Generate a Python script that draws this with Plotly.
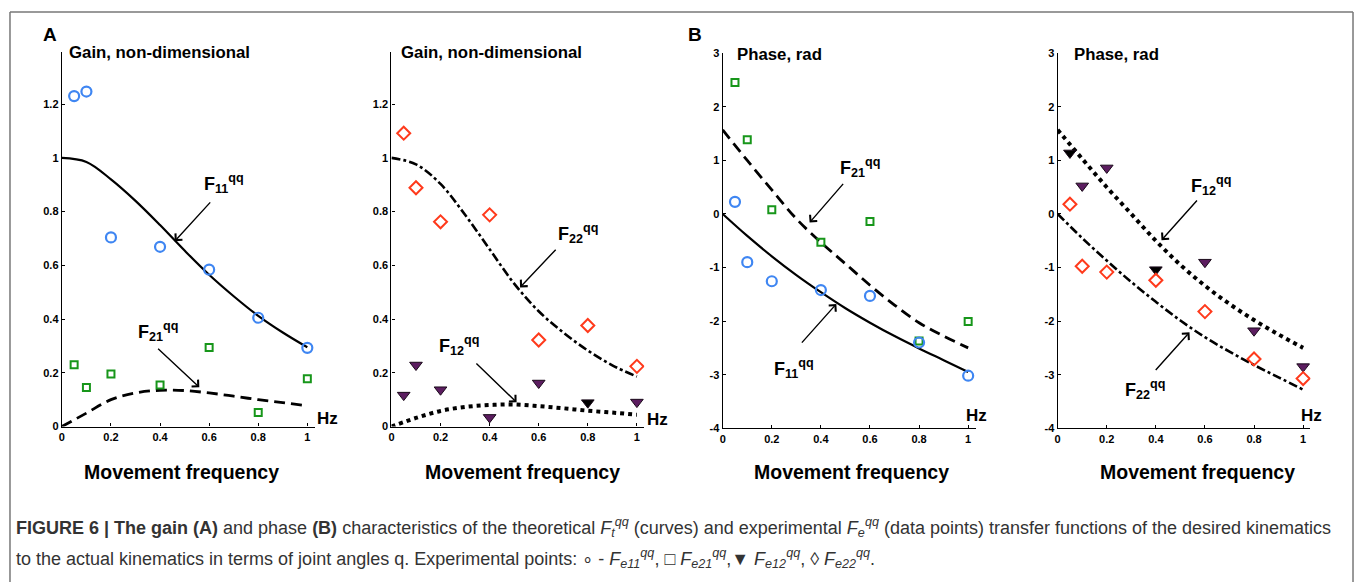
import plotly.graph_objects as go

W, H = 1357, 588

# ---------------- data ----------------
freq_pts = [0.05, 0.1, 0.2, 0.4, 0.6, 0.8, 1.0]
gain_e11 = [1.23, 1.247, 0.704, 0.669, 0.584, 0.405, 0.293]
gain_e21 = [0.23, 0.145, 0.196, 0.155, 0.294, 0.052, 0.178]
gain_e22 = [1.092, 0.889, 0.762, 0.788, 0.322, 0.376, 0.224]
gain_e12 = [0.117, 0.229, 0.137, 0.034, 0.162, 0.089, 0.091]
phase_e11 = [0.226, -0.90, -1.256, -1.42, -1.53, -2.40, -3.02]
phase_e21 = [2.457, 1.384, 0.079, -0.53, -0.14, -2.37, -2.01]
phase_e12 = [1.14, 0.524, 0.86, -1.04, -0.90, -2.18, -2.85]
phase_e22 = [0.183, -0.976, -1.085, -1.238, -1.823, -2.707, -3.073]
# which e12 points are drawn black (gain panel / phase panel)
gain_e12_black = [False, False, False, False, False, True, False]
phase_e12_black = [True, False, False, True, False, False, False]

curve_x = [0.0, 0.1, 0.2, 0.3, 0.4, 0.5, 0.6, 0.7, 0.8, 0.9, 1.0]
gain_t11 = [1.0, 0.985, 0.92, 0.84, 0.75, 0.655, 0.565, 0.485, 0.412, 0.35, 0.295]
gain_t21 = [0.0, 0.05, 0.10, 0.125, 0.135, 0.134, 0.125, 0.113, 0.10, 0.089, 0.077]
gain_t22 = [1.0, 0.976, 0.903, 0.788, 0.66, 0.532, 0.429, 0.35, 0.283, 0.228, 0.186]
gain_t12 = [0.0, 0.032, 0.058, 0.073, 0.08, 0.082, 0.076, 0.068, 0.059, 0.052, 0.044]
phase_t11 = [0.0, -0.41, -0.79, -1.14, -1.46, -1.76, -2.03, -2.28, -2.51, -2.73, -2.95]
phase_t21 = [1.57, 1.0, 0.45, -0.09, -0.53, -0.93, -1.33, -1.70, -2.03, -2.28, -2.5]
phase_t12 = [1.57, 1.03, 0.5, 0.0, -0.5, -0.95, -1.34, -1.68, -1.98, -2.25, -2.5]
phase_t22 = [0.0, -0.45, -0.87, -1.27, -1.64, -1.99, -2.3, -2.57, -2.82, -3.05, -3.28]

x_ticks = [0, 0.2, 0.4, 0.6, 0.8, 1]
x_tick_labels = ["0", "0.2", "0.4", "0.6", "0.8", "1"]
gain_ticks = [0, 0.2, 0.4, 0.6, 0.8, 1, 1.2]
gain_tick_labels = ["0", "0.2", "0.4", "0.6", "0.8", "1", "1.2"]
phase_ticks = [-4, -3, -2, -1, 0, 1, 2, 3]
phase_tick_labels = ["-4", "-3", "-2", "-1", "0", "1", "2", "3"]

# ---------------- styling ----------------
FONT = "Liberation Sans, Arial, Helvetica, sans-serif"
BLUE = "#3f86f2"
GREEN = "#17961a"
RED = "#ff3a1c"
PURPLE = "#5c1d60"


def px_x(px):
    return px / W


def px_y(py):
    return 1 - py / H


fig = go.Figure()

# panel pixel geometry: (x of origin, y of bottom, y of top)
panels = [
    dict(x0=59.0, yb=429.3, yt=47.0, yr=[0, 1.394], ticks=gain_ticks, tl=gain_tick_labels),
    dict(x0=389.3, yb=429.3, yt=47.0, yr=[0, 1.394], ticks=gain_ticks, tl=gain_tick_labels),
    dict(x0=721.3, yb=431.0, yt=48.3, yr=[-4, 3], ticks=phase_ticks, tl=phase_tick_labels),
    dict(x0=1057.0, yb=431.0, yt=48.3, yr=[-4, 3], ticks=phase_ticks, tl=phase_tick_labels),
]
UNIT = 246.0
XMAX = 1.03

for i, p in enumerate(panels, start=1):
    sx = "" if i == 1 else str(i)
    xd = [px_x(p["x0"]), px_x(p["x0"] + UNIT * XMAX)]
    yd = [px_y(p["yb"]), px_y(p["yt"])]
    fig.layout["xaxis" + sx] = dict(
        domain=xd, range=[0, XMAX], anchor="y" + sx,
        showgrid=False, zeroline=False, showline=True, linecolor="black", linewidth=1.3,
        ticks="inside", ticklen=3, tickcolor="black", tickwidth=1,
        tickvals=x_ticks, ticktext=["<b>%s</b>" % t for t in x_tick_labels],
        tickfont=dict(family=FONT, size=11, color="black"), fixedrange=True,
    )
    fig.layout["yaxis" + sx] = dict(
        domain=yd, range=p["yr"], anchor="x" + sx,
        showgrid=False, zeroline=False, showline=True, linecolor="black", linewidth=1.3,
        ticks="inside", ticklen=3, tickcolor="black", tickwidth=1,
        tickvals=p["ticks"], ticktext=["<b>%s</b>" % t for t in p["tl"]],
        tickfont=dict(family=FONT, size=11, color="black"), fixedrange=True,
    )


def curve(x, y, ax, dash, width=2.2):
    fig.add_trace(go.Scatter(x=x, y=y, mode="lines", xaxis="x" + ax, yaxis="y" + ax,
                             line=dict(color="black", width=width, dash=dash, shape="spline", smoothing=1.0),
                             hoverinfo="skip", showlegend=False))


def points(x, y, ax, symbol, color, size, lw=2, fill=None, linecolor=None):
    fig.add_trace(go.Scatter(x=x, y=y, mode="markers", xaxis="x" + ax, yaxis="y" + ax,
                             marker=dict(symbol=symbol, size=size,
                                         color=fill if fill is not None else color,
                                         line=dict(color=linecolor if linecolor else color, width=lw)),
                             showlegend=False))


# Panel 1 (gain, F11 & F21)
curve(curve_x, gain_t11, "", "solid", 2.2)
curve(curve_x, gain_t21, "", "11px,6px", 2.8)
points(freq_pts, gain_e11, "", "circle-open", BLUE, 10, lw=2.2)
points(freq_pts, gain_e21, "", "square-open", GREEN, 7)

# Panel 2 (gain, F22 & F12)
curve(curve_x, gain_t22, "2", "9px,3px,3px,3px", 2.6)
curve(curve_x, gain_t12, "2", "4px,4px", 4)
points(freq_pts, gain_e22, "2", "diamond-open", RED, 10)
points(freq_pts, gain_e12, "2", "triangle-down", PURPLE, 11, lw=1,
       fill=["black" if b else PURPLE for b in gain_e12_black], linecolor="#1a0a1a")

# Panel 3 (phase, F11 & F21)
curve(curve_x, phase_t11, "3", "solid", 2.2)
curve(curve_x, phase_t21, "3", "11px,6px", 2.8)
points(freq_pts, phase_e21, "3", "square-open", GREEN, 7)
points(freq_pts, phase_e11, "3", "circle-open", BLUE, 10, lw=2.2)

# Panel 4 (phase, F12 & F22)
curve(curve_x, phase_t12, "4", "4px,4px", 4)
curve(curve_x, phase_t22, "4", "9px,3px,3px,3px", 2.6)
points(freq_pts, phase_e12, "4", "triangle-down", PURPLE, 11, lw=1,
       fill=["black" if b else PURPLE for b in phase_e12_black], linecolor="#1a0a1a")
points(freq_pts, phase_e22, "4", "diamond-open", RED, 10)

ann = []


def label(ax, x, y, sub, tx, ty, hx, hy):
    xr = "x" + ax
    yr = "y" + ax
    ann.append(dict(x=hx, y=hy, ax=tx, ay=ty, xref=xr, yref=yr, axref=xr, ayref=yr,
                    text="", showarrow=True, arrowhead=4, arrowsize=1.3, arrowwidth=1.4,
                    arrowcolor="black"))
    ann.append(dict(x=x, y=y, xref=xr, yref=yr, showarrow=False,
                    text="<b>F<sub>%s</sub><sup>qq</sup></b>" % sub,
                    font=dict(family=FONT, size=18, color="black")))


label("", 0.66, 0.905, "11", 0.61, 0.84, 0.46, 0.69)
label("", 0.39, 0.355, "21", 0.386, 0.295, 0.56, 0.146)
label("2", 0.76, 0.72, "22", 0.675, 0.664, 0.524, 0.518)
label("2", 0.276, 0.30, "12", 0.34, 0.24, 0.51, 0.09)
label("3", 0.56, 0.87, "21", 0.496, 0.59, 0.354, -0.16)
label("3", 0.29, -2.88, "11", 0.317, -2.43, 0.463, -1.68)
label("4", 0.626, 0.53, "12", 0.573, 0.28, 0.423, -0.49)
label("4", 0.354, -3.28, "22", 0.394, -2.94, 0.537, -2.21)


def ptext(px, py, text, size, xanchor="left", color="black", family=FONT):
    ann.append(dict(x=px_x(px), y=px_y(py), xref="paper", yref="paper", showarrow=False,
                    text=text, xanchor=xanchor, yanchor="middle",
                    font=dict(family=family, size=size, color=color)))


# panel letters & y titles
ptext(38, 29, "<b>A</b>", 19)
ptext(685, 29, "<b>B</b>", 19)
ptext(64, 47, "<b>Gain, non-dimensional</b>", 16.8)
ptext(397, 47, "<b>Gain, non-dimensional</b>", 16.8)
ptext(734, 49, "<b>Phase, rad</b>", 16.8)
ptext(1071, 49, "<b>Phase, rad</b>", 16.8)
# Hz labels
for hx, hy in [(325, 421), (656, 422), (976, 418), (1311, 418)]:
    ptext(hx, hy, "<b>Hz</b>", 17, xanchor="center")
# x titles
for cx in [179, 521, 850, 1197]:
    ptext(cx, 476, "<b>Movement frequency</b>", 19.5, xanchor="center")

# caption
CAP_FONT = "Liberation Sans, Arial, Helvetica, sans-serif"
cap1 = ("<b>FIGURE 6 | The gain (A)</b> and phase <b>(B)</b> characteristics of the theoretical "
        "<i>F<sub>t</sub><sup>qq</sup></i> (curves) and experimental <i>F<sub>e</sub><sup>qq</sup></i> "
        "(data points) transfer functions of the desired kinematics")
cap2 = ("to the actual kinematics in terms of joint angles q. Experimental points: \u2218 - "
        "<i>F<sub>e11</sub><sup>qq</sup></i>, \u25a1 <i>F<sub>e21</sub><sup>qq</sup></i>,"
        "\u25bc <i>F<sub>e12</sub><sup>qq</sup></i>, \u25ca <i>F<sub>e22</sub><sup>qq</sup></i>.")
ptext(11, 532, cap1, 18, color="#333333", family=CAP_FONT)
ptext(11, 564, cap2, 18, color="#333333", family=CAP_FONT)

shapes = [
    dict(type="line", xref="paper", yref="paper", x0=px_x(7), x1=px_x(7), y0=0, y1=px_y(6),
         line=dict(color="#777777", width=1.5)),
    dict(type="line", xref="paper", yref="paper", x0=px_x(7), x1=px_x(1353), y0=px_y(6), y1=px_y(6),
         line=dict(color="#777777", width=1.5)),
    dict(type="line", xref="paper", yref="paper", x0=px_x(1353), x1=px_x(1353), y0=0, y1=px_y(6),
         line=dict(color="#777777", width=1.5)),
]

fig.update_layout(
    width=W, height=H, margin=dict(l=0, r=0, t=0, b=0),
    paper_bgcolor="white", plot_bgcolor="white",
    annotations=ann, shapes=shapes, showlegend=False,
)

fig.write_html("out.html", include_plotlyjs=True, config={"displayModeBar": False})
